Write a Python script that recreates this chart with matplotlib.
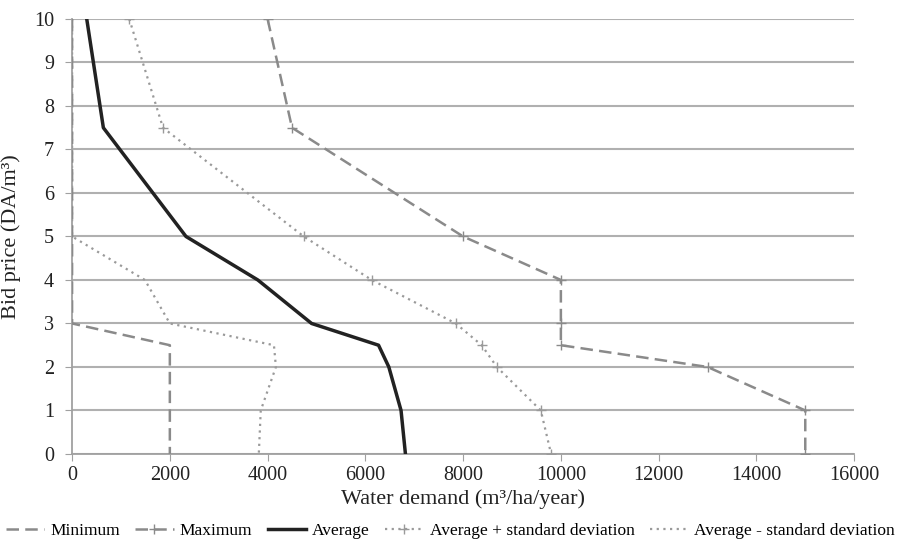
import matplotlib.pyplot as plt

# Prix d'offre (axe vertical) et demandes en eau (axe horizontal)
bid_price = [10, 7.5, 5, 4, 3, 2.5, 2, 1, 0]
minimum = [0, 0, 0, 0, 0, 2000, 2000, 2000, 2000]
maximum = [4000, 4500, 8000, 10000, 10000, 10000, 13000, 15000, 15000]
average = [300, 640, 2330, 3800, 4900, 6270, 6480, 6730, 6820]
avg_plus_sd = [1170, 1860, 4740, 6130, 7850, 8380, 8690, 9590, 9800]
avg_minus_sd = [0, 0, 0, 1490, 2000, 4130, 4170, 3860, 3820]

plt.rcParams["font.family"] = ["Liberation Serif", "DejaVu Serif"]

fig, ax = plt.subplots(figsize=(9.01, 5.43), dpi=100)
fig.subplots_adjust(left=0.08, right=0.948, top=0.965, bottom=0.164)

gris = "#8a8a8a"
ax.plot(avg_minus_sd, bid_price, color="#9a9a9a", linestyle=(0, (1, 2)), linewidth=1.6,
        label="Average - standard deviation", zorder=3)
ax.plot(avg_plus_sd, bid_price, color="#9a9a9a", linestyle=(0, (1, 2)), linewidth=1.6,
        marker="+", markersize=7, markeredgewidth=1, label="Average + standard deviation", zorder=3)
ax.plot(minimum, bid_price, color=gris, linestyle=(0, (5, 2.5)), linewidth=1.8,
        label="Minimum", zorder=3)
ax.plot(maximum, bid_price, color=gris, linestyle=(0, (5, 2.5)), linewidth=1.8,
        marker="+", markersize=7, markeredgewidth=1, label="Maximum", zorder=3)
ax.plot(average, bid_price, color="#222222", linewidth=2.5, label="Average", zorder=4)

ax.set_xlim(0, 16000)
ax.set_ylim(0, 10)
ax.set_xticks(range(0, 16001, 2000))
ax.set_yticks(range(0, 11))
ax.yaxis.grid(True, color="#b0b0b0", linewidth=1.5)
ax.set_axisbelow(True)
for s in ["top", "right"]:
    ax.spines[s].set_visible(False)
for s in ["left", "bottom"]:
    ax.spines[s].set_color("#a0a0a0")
    ax.spines[s].set_linewidth(1.3)
ax.tick_params(axis="both", colors="#a0a0a0", labelcolor="#222222", labelsize=14.5, length=5)
ax.tick_params(axis="y", pad=8)

ax.set_xlabel("Water demand (m³/ha/year)", fontsize=16, color="#222222", labelpad=3)
ax.set_ylabel("Bid price (DA/m³)", fontsize=16, color="#222222", labelpad=9)

handles, labels = ax.get_legend_handles_labels()
order = ["Minimum", "Maximum", "Average", "Average + standard deviation", "Average - standard deviation"]
hmap = dict(zip(labels, handles))
fig.legend([hmap[o] for o in order], order, loc="lower center", ncol=5, frameon=False,
           fontsize=12.5, bbox_to_anchor=(0.5, -0.015), handlelength=2.2, columnspacing=0.9,
           handletextpad=0.35, borderpad=0.2)

plt.savefig("out.png")
